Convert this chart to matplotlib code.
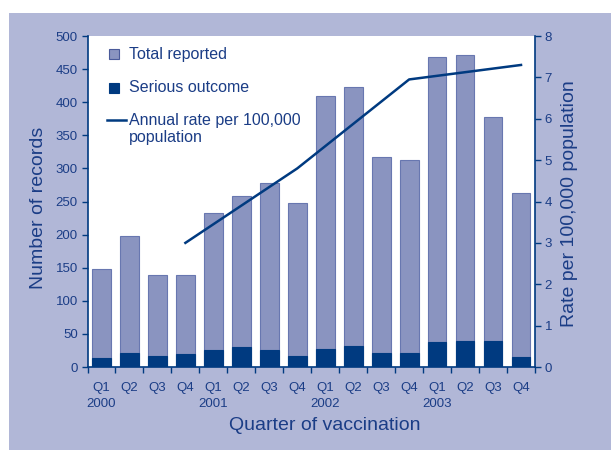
import numpy as np
import matplotlib
matplotlib.use('Agg')
import matplotlib.pyplot as plt
from matplotlib.patches import Rectangle
from matplotlib.lines import Line2D

plt.rcParams['font.family'] = ['Liberation Sans', 'DejaVu Sans']

quarters = ['Q1', 'Q2', 'Q3', 'Q4'] * 4
years = ['2000', '2001', '2002', '2003']
total = [148, 198, 139, 139, 233, 259, 278, 247, 409, 423, 317, 312, 468, 472, 378, 263]
serious = [13, 21, 16, 19, 26, 30, 26, 17, 27, 32, 21, 21, 38, 40, 40, 15]
# annual rate plotted at Q4 of each year
rate_years = ['2000', '2001', '2002', '2003']
rate = [3.0, 4.8, 6.95, 7.3]

bg = '#b1b7d7'
bar_col = '#8a94c0'
navy = '#003a80'
txt = '#1b3d86'

fig = plt.figure(figsize=(6.11, 4.5), dpi=100)
fig.patch.set_facecolor('white')
fig.patches.append(Rectangle((9 / 611, 0), 1, 1 - 13 / 450, transform=fig.transFigure,
                             facecolor=bg, edgecolor='none', zorder=-10))

ax = fig.add_axes([87.5 / 611, 1 - 367 / 450, 447.5 / 611, 331 / 450])
ax.set_facecolor('white')
x = np.arange(len(total))
ax.bar(x, total, width=0.67, color=bar_col, edgecolor='#6877b0', linewidth=0.8, zorder=2)
ax.bar(x, serious, width=0.67, color=navy, edgecolor=navy, linewidth=0.8, zorder=3)
ax.set_xlim(-0.5, len(total) - 0.5)
ax.set_ylim(0, 500)
ax.set_yticks(np.arange(0, 501, 50))

labels = []
for i, q in enumerate(quarters):
    labels.append(q + '\n' + years[i // 4] if q == 'Q1' else q)
ax.set_xticks(x)
ax.set_xticklabels(labels, linespacing=1.45, va='top')
ax.set_xticks(np.arange(-0.5, len(total)), minor=True)
ax.tick_params(axis='x', which='major', length=0, pad=11)
ax.tick_params(axis='x', which='minor', length=4, width=1, color=navy)
ax.tick_params(axis='y', length=4, width=1, color=navy, pad=3)
ax.tick_params(labelsize=9.5, labelcolor=txt)

for s in ['left', 'bottom']:
    ax.spines[s].set_color(navy)
    ax.spines[s].set_linewidth(1.2)
ax.spines['top'].set_visible(False)
ax.spines['right'].set_visible(False)

ax.set_ylabel('Number of records', fontsize=14, color=txt)
ax.yaxis.set_label_coords(-0.091, 0.481)
ax.set_xlabel('Quarter of vaccination', fontsize=14, color=txt)
ax.xaxis.set_label_coords(0.531, -0.152)

ax2 = ax.twinx()
rate_x = [years.index(y) * 4 + 3 for y in rate_years]
ax2.plot(rate_x, rate, color=navy, linewidth=1.8, zorder=5)
ax2.set_ylim(0, 8)
ax2.set_yticks(range(0, 9))
ax2.tick_params(axis='y', length=4, width=1, color=navy, labelsize=9.5, labelcolor=txt, pad=3)
for s in ['left', 'bottom', 'top']:
    ax2.spines[s].set_visible(False)
ax2.spines['right'].set_color(navy)
ax2.spines['right'].set_linewidth(1.2)
ax2.set_ylabel('Rate per 100,000 population', fontsize=14, color=txt)
ax2.yaxis.set_label_coords(1.0587, 0.494)

# legend drawn by hand
ax.add_patch(Rectangle((0.048, 0.9456 - 0.015), 0.0223, 0.030, transform=ax.transAxes,
                       facecolor=bar_col, edgecolor='#4a5a9a', linewidth=0.8, zorder=6))
ax.add_patch(Rectangle((0.048, 0.8438 - 0.015), 0.0223, 0.030, transform=ax.transAxes,
                       facecolor=navy, edgecolor=navy, linewidth=0.8, zorder=6))
ax.add_line(Line2D([0.0429, 0.0855], [0.746, 0.746], transform=ax.transAxes,
                   color=navy, linewidth=1.8, zorder=6))
lx = 0.0927
ax.text(lx, 0.9456, 'Total reported', transform=ax.transAxes, fontsize=11.5, color=txt, va='center')
ax.text(lx, 0.8438, 'Serious outcome', transform=ax.transAxes, fontsize=11.5, color=txt, va='center')
ax.text(lx, 0.746, 'Annual rate per 100,000', transform=ax.transAxes, fontsize=11.5, color=txt, va='center')
ax.text(lx, 0.694, 'population', transform=ax.transAxes, fontsize=11.5, color=txt, va='center')

fig.savefig('out.png', dpi=100, facecolor=fig.get_facecolor())
